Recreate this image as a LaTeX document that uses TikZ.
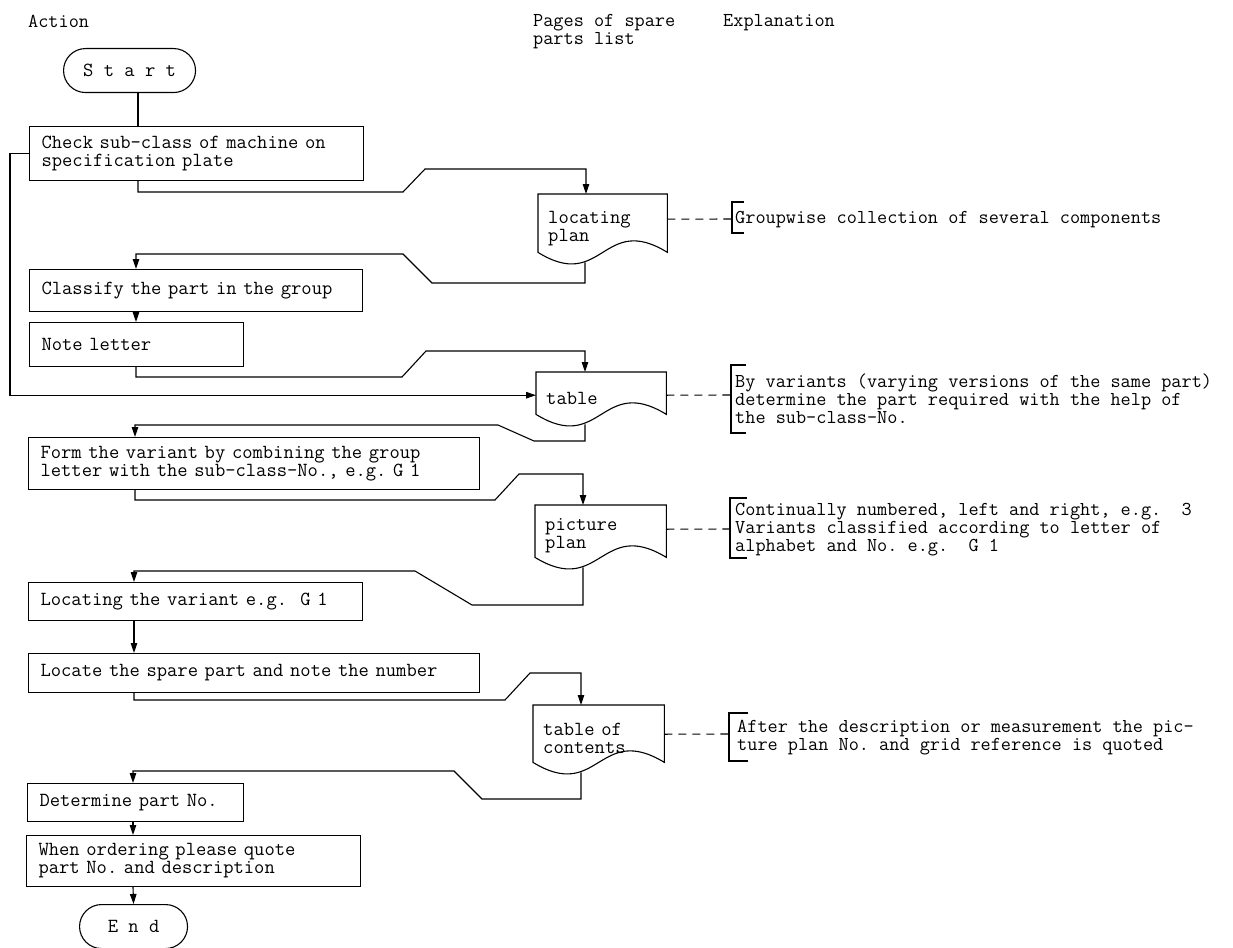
\documentclass[tikz,border=0pt]{standalone}
\usetikzlibrary{arrows.meta}
\newcommand\ttsz{\fontsize{20}{18}\selectfont\ttfamily\frenchspacing\lineskiplimit=-20pt}
\newcommand\ttszb{\fontsize{19.7}{18}\selectfont\ttfamily\frenchspacing\lineskiplimit=-20pt}
\newcommand\drawdoc[1]{\draw[docline] (#1.north west) -- (#1.north east) -- ([yshift=10pt]#1.south east) .. controls ([yshift=50pt]#1.south) and ([yshift=-30pt]#1.south) .. ([yshift=10pt]#1.south west) -- cycle;}
\tikzset{
 ln/.style={line width=1.1pt},
 proc/.style={ln, draw, anchor=north west, inner xsep=12pt, inner ysep=0pt, align=left, font=\ttsz},
 term/.style={ln, draw, anchor=north west, rounded corners=22pt, minimum height=44pt, inner sep=0pt, font=\ttsz},
 docn/.style={anchor=north west, inner xsep=10pt, inner ysep=0pt, align=left, font=\ttsz},
 docline/.style={ln},
 arr/.style={ln, -{Triangle[length=10pt,width=6.5pt]}},
 flow/.style={ln},
 dsh/.style={ln, dash pattern=on 8pt off 6pt},
 brk/.style={ln},
 txt/.style={anchor=base west, inner sep=0pt, font=\ttszb},
}
\begin{document}
\begin{tikzpicture}[x=1pt,y=-1pt]
\useasboundingbox (0,0) rectangle (1233,947);
% headers
\node[txt] (hact) at (28,28) {Action};
\node[txt] (hpag) at (533,27) {\vtop{\hbox{Pages of spare}\hbox{parts list}}};
\node[txt] (hexp) at (723,27) {Explanation};
% terminals
\node[term, minimum width=132pt] (start) at (63,48) {S t a r t};
\node[term, minimum width=108pt] (end) at (79,904) {E n d};
% process boxes
\node[proc, text width=310pt, minimum height=54pt] (chk) at (29,126) {\mbox{Check sub-class of machine on}\\\mbox{specification plate}};
\node[proc, text width=309pt, minimum height=42pt] (cls) at (29,269) {\mbox{Classify the part in the group}};
\node[proc, text width=190pt, minimum height=44pt] (note) at (29,322) {\mbox{Note letter}};
\node[proc, text width=427pt, minimum height=52pt] (form) at (28,437) {\mbox{Form the variant by combining the group}\\\mbox{letter with the sub-class-No., e.g. G~1}};
\node[proc, text width=310pt, minimum height=38pt] (locv) at (28,582) {\mbox{Locating the variant e.g.~~G~1}};
\node[proc, text width=427pt, minimum height=39pt] (locs) at (28,653) {\mbox{Locate the spare part and note the number}};
\node[proc, text width=192pt, minimum height=38pt] (det) at (27,783) {\mbox{Determine part No.}};
\node[proc, text width=310pt, minimum height=51pt] (ord) at (26,835) {\mbox{When ordering please quote}\\\mbox{part No. and description}};
% documents
\node[docn, text width=109pt, minimum height=68pt] (lp) at (538,194) {locating\\plan};
\node[docn, text width=110pt, minimum height=52pt] (tbl) at (536,372) {table};
\node[docn, text width=111pt, minimum height=62pt] (pic) at (535,505) {picture\\plan};
\node[docn, text width=111pt, minimum height=67pt] (toc) at (533,705) {table of\\contents};
\drawdoc{lp}
\drawdoc{tbl}
\drawdoc{pic}
\drawdoc{toc}
% connectors
\draw[flow] ([xshift=75pt]start.south west) -- ([xshift=109pt]chk.north west);
\draw[arr] ([xshift=109pt]chk.south west) -- (138,192) -- (403,192) -- (425,169) -- (586,169) -- ([xshift=48pt]lp.north west);
\draw[arr] ([xshift=47pt]lp.south west) -- (585,283) -- (432,283) -- (403,254) -- (136,254) -- ([xshift=107pt]cls.north west);
\draw[arr] ([xshift=107pt]cls.south west) -- ([xshift=107pt]note.north west);
\draw[arr] ([xshift=107pt]note.south west) -- (136,377) -- (402,377) -- (426,351) -- (585,351) -- ([xshift=49pt]tbl.north west);
\draw[arr] (chk.west) -- ++(-19,0) |- ([yshift=3pt]tbl.west);
\draw[arr] ([xshift=49pt]tbl.south west) -- (585,441) -- (534,441) -- (498,425) -- (135,425) -- ([xshift=107pt]form.north west);
\draw[arr] ([xshift=107pt]form.south west) -- (135,500) -- (495,500) -- (519,474) -- (583,474) -- ([xshift=48pt]pic.north west);
\draw[arr] ([xshift=48pt]pic.south west) -- (583,605) -- (472,605) -- (415,571) -- (134,571) -- ([xshift=106pt]locv.north west);
\draw[arr] ([xshift=106pt]locv.south west) -- ([xshift=106pt]locs.north west);
\draw[arr] ([xshift=106pt]locs.south west) -- (134,700) -- (505,700) -- (530,673) -- (581,673) -- ([xshift=48pt]toc.north west);
\draw[arr] ([xshift=48pt]toc.south west) -- (581,799) -- (482,799) -- (454,771) -- (133,771) -- ([xshift=106pt]det.north west);
\draw[arr] ([xshift=106pt]det.south west) -- ([xshift=107pt]ord.north west);
\draw[arr] ([xshift=107pt]ord.south west) -- (end.north);
% explanations
\coordinate (b1) at (732,219);
\coordinate (b2) at (731,395);
\coordinate (b3) at (730,529);
\coordinate (b4) at (729,734);
\draw[dsh] ([yshift=9pt]lp.east) -- (b1);
\draw[dsh] ([yshift=3pt]tbl.east) -- (b2);
\draw[dsh] ([yshift=7pt]pic.east) -- (b3);
\draw[dsh] ([yshift=4.5pt]toc.east) -- (b4);
\draw[brk] (744,202) -- (732,202) -- (732,233) -- (744,233);
\draw[brk] (746,365) -- (731,365) -- (731,433) -- (746,433);
\draw[brk] (747,498) -- (730,498) -- (730,558) -- (747,558);
\draw[brk] (748,713) -- (729,713) -- (729,761) -- (748,761);
\node[txt] (e1) at (735,223) {Groupwise collection of several components};
\node[txt] (e2) at (735,387) {\vtop{\hbox{By variants (varying versions of the same part)}\hbox{determine the part required with the help of}\hbox{the sub-class-No.}}};
\node[txt] (e3) at (735,515) {\vtop{\hbox{Continually numbered, left and right, e.g.~~3}\hbox{Variants classified according to letter of}\hbox{alphabet and No. e.g.~~G~1}}};
\node[txt] (e4) at (737,732) {\vtop{\hbox{After the description or measurement the pic-}\hbox{ture plan No. and grid reference is quoted}}};
\end{tikzpicture}
\end{document}
